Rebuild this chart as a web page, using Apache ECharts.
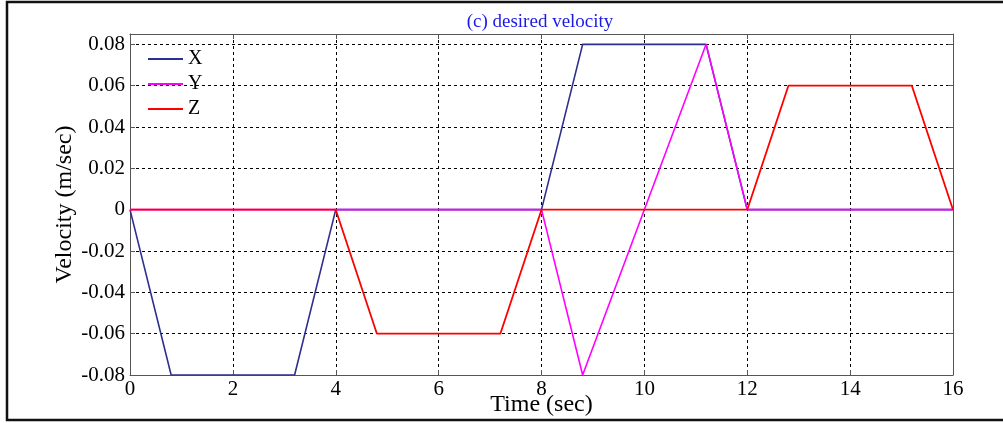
<!DOCTYPE html>
<html>
<head>
<meta charset="utf-8">
<script src="https://cdn.jsdelivr.net/npm/echarts@6/dist/echarts.min.js"></script>
<style>
html,body{margin:0;padding:0;background:#fff;}
#chart{width:1003px;height:423px;}
</style>
</head>
<body>
<div id="chart"></div>
<script>
// ---- data ----
const xTime = [0, 0.8, 3.2, 4, 8, 8.8, 11.2, 12, 16];
const xVel  = [0, -0.08, -0.08, 0, 0, 0.08, 0.08, 0, 0];
const yTime = [0, 8, 8.8, 11.2, 12, 16];
const yVel  = [0, 0, -0.08, 0.08, 0, 0];
const zTime = [0, 4, 4.8, 7.2, 8, 12, 12.8, 15.2, 16];
const zVel  = [0, 0, -0.06, -0.06, 0, 0, 0.06, 0.06, 0];
const seriesNames = ['X', 'Y', 'Z'];
const xTicks = [0, 2, 4, 6, 8, 10, 12, 14, 16];
const yTicks = [-0.08, -0.06, -0.04, -0.02, 0, 0.02, 0.04, 0.06, 0.08];

const pairs = (t, v) => t.map((x, i) => [x, v[i]]);
const FONT = 'Liberation Serif';

const chart = echarts.init(document.getElementById('chart'), null, {renderer: 'canvas'});
const fmtY = v => {
  const r = Math.round(v * 100) / 100;
  return r === 0 ? '0' : String(r);
};
const axisLineStyle = {color: '#555', width: 1};
chart.setOption({
  animation: false,
  backgroundColor: '#fff',
  title: {
    text: '(c) desired velocity',
    left: 535, top: 8, textAlign: 'center',
    textStyle: {fontFamily: FONT, fontSize: 19, fontWeight: 'normal', color: '#1a1ae6'}
  },
  legend: {
    data: seriesNames,
    orient: 'vertical', left: 143, top: 44,
    itemWidth: 35, itemHeight: 2, itemGap: 5, icon: 'rect',
    textStyle: {fontFamily: FONT, fontSize: 20, color: '#000', lineHeight: 20, padding: [0,0,0,0]}
  },
  grid: {left: 130, right: 50, top: 34, bottom: 48, containLabel: false, outerBoundsMode: 'none'},
  xAxis: [{
    type: 'value', min: 0, max: 16, interval: 2,
    name: 'Time (sec)', nameLocation: 'middle', nameGap: 18, nameMoveOverlap: false,
    nameTextStyle: {fontFamily: FONT, fontSize: 24, color: '#000'},
    axisLine: {show: true, onZero: false, lineStyle: axisLineStyle},
    axisTick: {show: true, inside: true, length: 5, lineStyle: axisLineStyle},
    axisLabel: {fontFamily: FONT, fontSize: 21, color: '#000', margin: 4},
    splitLine: {show: true, lineStyle: {color: '#000', type: [3, 3], width: 1}}
  }, {
    type: 'value', min: 0, max: 16, interval: 2, position: 'top',
    axisLine: {show: true, onZero: false, lineStyle: axisLineStyle},
    axisTick: {show: true, inside: true, length: 5, lineStyle: axisLineStyle},
    axisLabel: {show: false}, splitLine: {show: false}
  }],
  yAxis: [{
    type: 'value', min: -0.08, max: 0.085, interval: 0.02,
    name: 'Velocity (m/sec)', nameLocation: 'middle', nameGap: 53, nameMoveOverlap: false,
    nameTextStyle: {fontFamily: FONT, fontSize: 24, color: '#000'},
    axisLine: {show: true, onZero: false, lineStyle: axisLineStyle},
    axisTick: {show: true, inside: true, length: 5, lineStyle: axisLineStyle},
    axisLabel: {fontFamily: FONT, fontSize: 21, color: '#000', margin: 5, formatter: fmtY, showMaxLabel: false},
    splitLine: {show: true, lineStyle: {color: '#000', type: [3, 3], width: 1}}
  }, {
    type: 'value', min: -0.08, max: 0.085, interval: 0.02, position: 'right',
    axisLine: {show: true, onZero: false, lineStyle: axisLineStyle},
    axisTick: {show: true, inside: true, length: 5, lineStyle: axisLineStyle},
    axisLabel: {show: false}, splitLine: {show: false}
  }],
  graphic: [{
    type: 'rect', silent: true, z: 100,
    shape: {x: 7, y: 2, width: 1020, height: 418},
    style: {fill: 'none', stroke: '#111', lineWidth: 2.5}
  }],
  series: [
    {name: 'X', type: 'line', data: pairs(xTime, xVel), showSymbol: false, symbol: 'none',
     lineStyle: {color: '#2B2F8F', width: 1.6}, itemStyle: {color: '#2B2F8F'}},
    {name: 'Y', type: 'line', data: pairs(yTime, yVel), showSymbol: false, symbol: 'none',
     lineStyle: {color: '#FF00FF', width: 1.6}, itemStyle: {color: '#FF00FF'}},
    {name: 'Z', type: 'line', data: pairs(zTime, zVel), showSymbol: false, symbol: 'none',
     lineStyle: {color: '#FF0000', width: 1.8}, itemStyle: {color: '#FF0000'}}
  ]
});
</script>
</body>
</html>
